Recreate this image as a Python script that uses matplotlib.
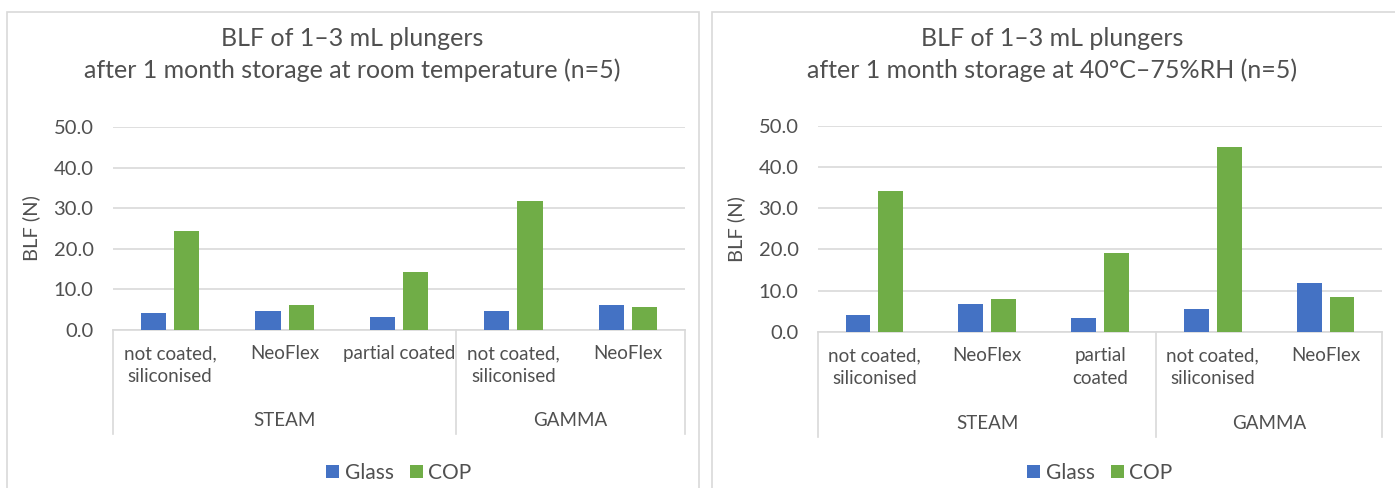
import matplotlib.pyplot as plt
from matplotlib.patches import Rectangle
import numpy as np

plt.rcParams['font.family'] = ['Lato', 'DejaVu Sans']

# data
subcats_left = ["not coated,\nsiliconised", "NeoFlex", "partial coated", "not coated,\nsiliconised", "NeoFlex"]
subcats_right = ["not coated,\nsiliconised", "NeoFlex", "partial\ncoated", "not coated,\nsiliconised", "NeoFlex"]
groups = ["STEAM", "GAMMA"]
group_sizes = [3, 2]

glass_rt = [4.2, 4.7, 3.2, 4.7, 6.1]
cop_rt = [24.4, 6.1, 14.3, 31.8, 5.7]
glass_40 = [4.1, 6.7, 3.3, 5.4, 11.8]
cop_40 = [34.1, 7.9, 19.1, 45.0, 8.4]

title_left = "BLF of 1\u20133 mL plungers\nafter 1 month storage at room temperature (n=5)"
title_right = "BLF of 1\u20133 mL plungers\nafter 1 month storage at 40\u00b0C\u201375%RH (n=5)"

W, H = 1395, 488
fig = plt.figure(figsize=(W / 100, H / 100), dpi=100)

grey = "#505050"
line_grey = "#d9d9d9"
blue = "#4472C4"
green = "#70AD47"

# panel borders
fig.patches.append(Rectangle((7 / W, -0.1), (699 - 7) / W, 1.1 - 12 / H, transform=fig.transFigure,
                             fill=False, edgecolor=line_grey, lw=1.2))
fig.patches.append(Rectangle((712 / W, -0.1), (1420 - 712) / W, 1.1 - 12 / H, transform=fig.transFigure,
                             fill=False, edgecolor=line_grey, lw=1.2))


def draw(ax, glass, cop, subcats, title, panel_cx):
    x = np.arange(len(subcats))
    w = 0.22
    ax.bar(x - 0.145, glass, w, color=blue, label="Glass", zorder=3)
    ax.bar(x + 0.145, cop, w, color=green, label="COP", zorder=3)
    ax.set_xlim(-0.5, len(subcats) - 0.5)
    ax.set_ylim(0, 50)
    ax.set_yticks([0, 10, 20, 30, 40, 50])
    ax.set_yticklabels([f"{v:.1f}" for v in [0, 10, 20, 30, 40, 50]], fontsize=14.5, color=grey)
    ax.tick_params(axis="y", length=0, pad=14)
    ax.tick_params(axis="x", length=0)
    ax.set_xticks([])
    ax.grid(axis="y", color=line_grey, lw=1.2, zorder=0)
    for s in ["top", "right", "left"]:
        ax.spines[s].set_visible(False)
    ax.spines["bottom"].set_color(line_grey)
    ax.spines["bottom"].set_linewidth(1.2)
    ax.set_ylabel("BLF (N)", fontsize=14.5, color=grey, labelpad=10)

    trans = ax.get_xaxis_transform()
    bottom = -0.51
    edges = [-0.5]
    start = 0
    for g, n in zip(groups, group_sizes):
        ax.text(start + (n - 1) / 2, -0.445, g, transform=trans, ha="center", va="center",
                fontsize=13.5, color=grey)
        start += n
        edges.append(start - 0.5)
    for e in edges:
        ax.plot([e, e], [0, bottom], transform=trans, color=line_grey, lw=1.2, clip_on=False)
    for i, lab in enumerate(subcats):
        ax.text(i, -0.075, lab, transform=trans, ha="center", va="top", fontsize=13.5,
                color=grey, linespacing=1.4)

    fig.text(panel_cx, 1 - 54.5 / H, title, ha="center", va="center", fontsize=18, color=grey,
             linespacing=1.45)
    ax.legend(loc="center", bbox_to_anchor=(0.5, 1 - (473 - fig_top(ax)) / ax_h(ax)), ncol=2,
              frameon=False, fontsize=15,
              handlelength=0.62, handleheight=0.62, handletextpad=0.25, columnspacing=0.8,
              labelcolor=grey, borderaxespad=0, borderpad=0)


def fig_top(ax):
    # top edge of the axes in pixels from the top of the figure
    return (1 - ax.get_position().y1) * H


def ax_h(ax):
    return ax.get_position().height * H


axl = fig.add_axes([113 / W, 1 - 330 / H, (685 - 113) / W, (330 - 127) / H])
draw(axl, glass_rt, cop_rt, subcats_left, title_left, 352 / W)

axr = fig.add_axes([818 / W, 1 - 331.7 / H, (1382 - 818) / W, (331.7 - 126) / H])
draw(axr, glass_40, cop_40, subcats_right, title_right, 1052 / W)

fig.savefig("out.png", dpi=100, facecolor="white")
